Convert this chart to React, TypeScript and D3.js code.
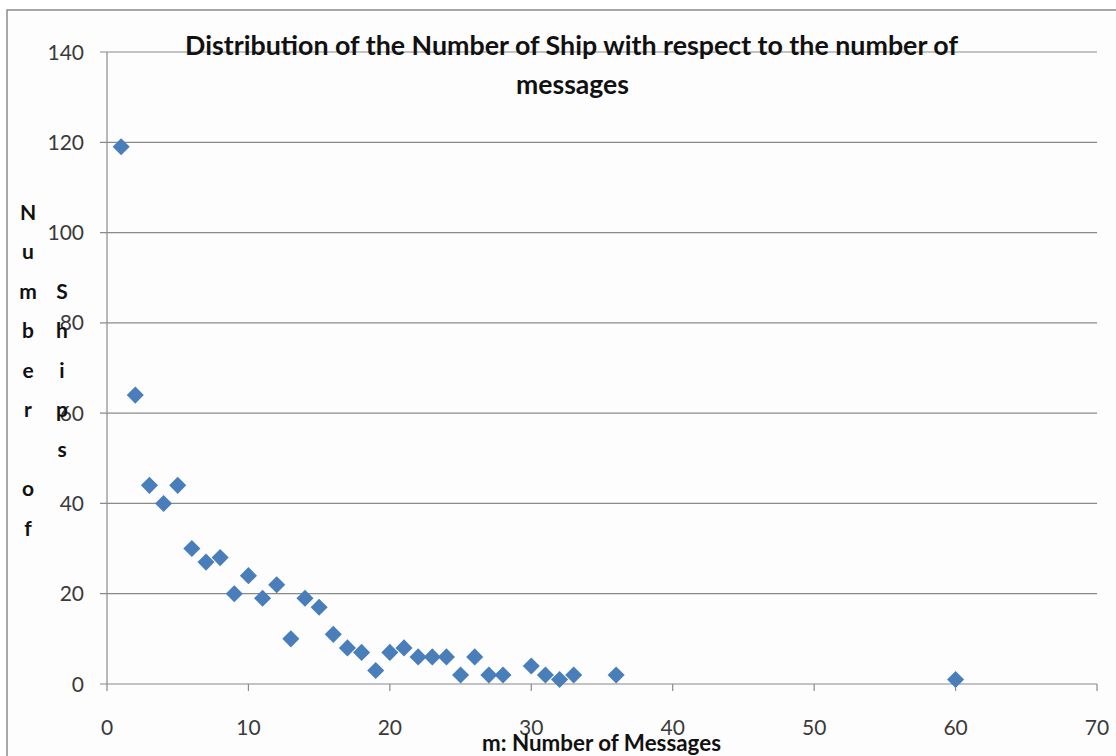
import React from "react";
import * as d3 from "d3";

// Number of messages per ship (m) and how many ships sent exactly m messages
const messageCounts = [1, 2, 3, 4, 5, 6, 7, 8, 9, 10, 11, 12, 13, 14, 15, 16, 17, 18, 19, 20, 21, 22, 23, 24, 25, 26, 27, 28, 30, 31, 32, 33, 36, 60];
const shipCounts = [119, 64, 44, 40, 44, 30, 27, 28, 20, 24, 19, 22, 10, 19, 17, 11, 8, 7, 3, 7, 8, 6, 6, 6, 2, 6, 2, 2, 4, 2, 1, 2, 2, 1];

const xTicks = [0, 10, 20, 30, 40, 50, 60, 70];
const yTicks = [0, 20, 40, 60, 80, 100, 120, 140];

const titleLines = ["Distribution of the Number of Ship with respect to the number of", "messages"];
const xTitle = "m: Number of Messages";
const yTitleLeft = ["N", "u", "m", "b", "e", "r", "", "o", "f"];
const yTitleRight = ["", "", "S", "h", "i", "p", "s"];

const W = 1116;
const H = 756;
const plot = { left: 107, right: 1097, top: 52, bottom: 684 };

export default function App() {
  const x = d3.scaleLinear().domain([0, 70]).range([plot.left, plot.right]);
  const y = d3.scaleLinear().domain([0, 140]).range([plot.bottom, plot.top]);
  const diamond = d3.symbol(d3.symbolSquare, 146)() as string;
  const font = "Lato, 'Noto Sans', sans-serif";
  const points = messageCounts.map((m, i) => ({ m, n: shipCounts[i] }));

  return (
    <svg
      width={W}
      height={H}
      style={{ position: "absolute", left: 0, top: 0, background: "#ffffff" }}
    >
      {/* chart frame */}
      <rect x={7} y={10} width={W} height={H} fill="#fdfdfd" stroke="#8c8c8c" strokeWidth={1.5} />

      {/* horizontal gridlines with outside ticks */}
      {yTicks.map((t) => (
        <line key={"g" + t} x1={plot.left - 7} x2={plot.right} y1={y(t)} y2={y(t)} stroke="#8a8a8a" strokeWidth={1.2} />
      ))}
      {/* value axis */}
      <line x1={plot.left} x2={plot.left} y1={plot.top} y2={plot.bottom} stroke="#8a8a8a" strokeWidth={1.2} />
      {/* category axis ticks */}
      {xTicks.map((t) => (
        <line key={"xt" + t} x1={x(t)} x2={x(t)} y1={plot.bottom} y2={plot.bottom + 7} stroke="#8a8a8a" strokeWidth={1.2} />
      ))}

      {/* y tick labels */}
      {yTicks.map((t) => (
        <text key={"yl" + t} x={84} y={y(t)} dy="0.36em" textAnchor="end" fontFamily={font} fontSize={21} fill="#3a3a3a">
          {t}
        </text>
      ))}
      {/* x tick labels */}
      {xTicks.map((t) => (
        <text key={"xl" + t} x={x(t)} y={735} textAnchor="middle" fontFamily={font} fontSize={21} fill="#3a3a3a">
          {t}
        </text>
      ))}

      {/* markers */}
      {points.map((p, i) => (
        <path
          key={"p" + i}
          d={diamond}
          transform={`translate(${x(p.m)},${y(p.n)}) rotate(45)`}
          fill="#4a7ebb"
        />
      ))}

      {/* chart title */}
      <text x={571.5} y={55} textAnchor="middle" fontFamily={font} fontWeight="bold" fontSize={26} fill="#111" textLength={773} lengthAdjust="spacingAndGlyphs">
        {titleLines[0]}
      </text>
      <text x={572.5} y={94} textAnchor="middle" fontFamily={font} fontWeight="bold" fontSize={26} fill="#111" textLength={113} lengthAdjust="spacingAndGlyphs">
        {titleLines[1]}
      </text>

      {/* x axis title */}
      <text x={601.5} y={751} textAnchor="middle" fontFamily={font} fontWeight="bold" fontSize={23} fill="#111" textLength={239} lengthAdjust="spacingAndGlyphs">
        {xTitle}
      </text>

      {/* y axis title, stacked letters */}
      {yTitleLeft.map((c, i) => (
        <text key={"yl1" + i} x={28} y={212 + i * 39.5} dy="0.36em" textAnchor="middle" fontFamily={font} fontWeight="bold" fontSize={21} fill="#111">
          {c}
        </text>
      ))}
      {yTitleRight.map((c, i) => (
        <text key={"yl2" + i} x={62} y={212 + i * 39.5} dy="0.36em" textAnchor="middle" fontFamily={font} fontWeight="bold" fontSize={21} fill="#111">
          {c}
        </text>
      ))}
    </svg>
  );
}
